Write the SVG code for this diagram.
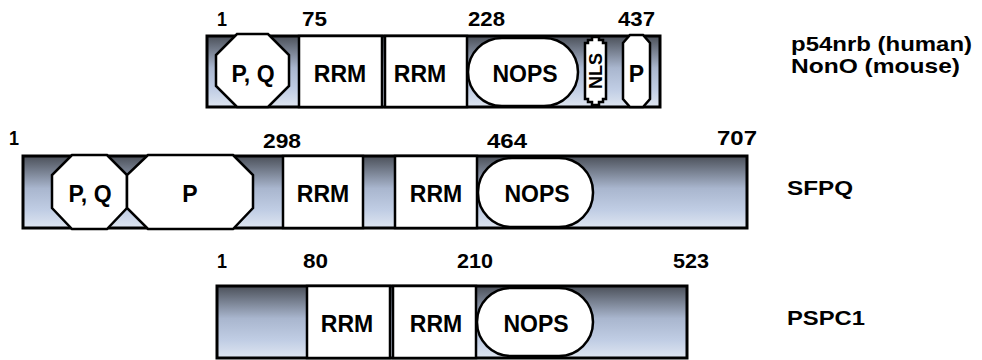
<svg xmlns="http://www.w3.org/2000/svg" width="982" height="360" viewBox="0 0 982 360">
<defs>
<linearGradient id="bg" x1="0" y1="0" x2="0" y2="1">
<stop offset="0" stop-color="#4b5059"/>
<stop offset="0.45" stop-color="#a9b6ce"/>
<stop offset="0.75" stop-color="#c0cde4"/>
<stop offset="1" stop-color="#dfe6f1"/>
</linearGradient>
</defs>
<style>
.bar{fill:url(#bg);stroke:#000;stroke-width:3}
.dom{fill:#fff;stroke:#000;stroke-width:2.5}
.t{font-family:"Liberation Sans",Arial,sans-serif;font-weight:bold;fill:#000}
.num{font-size:20px}
.in{font-size:23px;text-anchor:middle}
.nm{font-size:21px}
</style>
<rect width="982" height="360" fill="#fff"/>

<g id="p54nrb">
<rect class="bar" x="207" y="36" width="453" height="71"/>
<g id="p54-pq"><polygon class="dom" points="237,34 268,34 289,55 289,86 268,107 237,107 216,86 216,55"/><text class="t in" x="253" y="82">P, Q</text></g>
<g id="p54-rrm1"><rect class="dom" x="299" y="36" width="83" height="71"/><text class="t in" x="340" y="82">RRM</text></g>
<g id="p54-rrm2"><rect class="dom" x="385" y="36" width="82" height="71"/><text class="t in" x="420" y="82">RRM</text></g>
<g id="p54-nops"><rect class="dom" x="468" y="38" width="110" height="68" rx="34"/><text class="t in" x="525" y="82">NOPS</text></g>
<g id="p54-nls"><polygon class="dom" points="592,37 599,37 599,40 603,40 603,43 606,43 606,99 603,99 603,102 599,102 599,105 592,105 592,102 588,102 588,99 585,99 585,43 588,43 588,40 592,40" stroke-width="2"/><text class="t" font-size="18" text-anchor="middle" transform="translate(602,71) rotate(-90)">NLS</text></g>
<g id="p54-p"><polygon class="dom" points="630,35 643,35 650,43 650,99 643,107 630,107 623,99 623,43"/><text class="t in" x="636.5" y="82">P</text></g>
<g id="p54-nums">
<text class="t num" x="217" y="26" textLength="10" lengthAdjust="spacingAndGlyphs">1</text>
<text class="t num" x="302" y="26" textLength="25" lengthAdjust="spacingAndGlyphs">75</text>
<text class="t num" x="468" y="26" textLength="37" lengthAdjust="spacingAndGlyphs">228</text>
<text class="t num" x="618" y="26" textLength="37" lengthAdjust="spacingAndGlyphs">437</text>
</g>
<text class="t nm" x="791" y="51" textLength="181" lengthAdjust="spacingAndGlyphs">p54nrb (human)</text>
<text class="t nm" x="791" y="73" textLength="169" lengthAdjust="spacingAndGlyphs">NonO (mouse)</text>
</g>

<g id="sfpq">
<rect class="bar" x="23" y="156" width="724" height="72"/>
<g id="sfpq-pq"><polygon class="dom" points="72,155 107,155 127,175 127,208 107,229 72,229 52,208 52,175"/><text class="t in" x="90" y="202">P, Q</text></g>
<g id="sfpq-p"><polygon class="dom" points="148,155 233,155 253,175 253,208 233,229 148,229 127,208 127,175"/><text class="t in" x="190" y="202">P</text></g>
<g id="sfpq-rrm1"><rect class="dom" x="283" y="156" width="80" height="72"/><text class="t in" x="323" y="202">RRM</text></g>
<g id="sfpq-rrm2"><rect class="dom" x="395" y="156" width="82" height="72"/><text class="t in" x="436" y="202">RRM</text></g>
<g id="sfpq-nops"><rect class="dom" x="478" y="158" width="115" height="69" rx="34"/><text class="t in" x="537" y="202">NOPS</text></g>
<g id="sfpq-nums">
<text class="t num" x="9" y="145" textLength="10" lengthAdjust="spacingAndGlyphs">1</text>
<text class="t num" x="263" y="148" textLength="38" lengthAdjust="spacingAndGlyphs">298</text>
<text class="t num" x="487" y="148" textLength="40" lengthAdjust="spacingAndGlyphs">464</text>
<text class="t num" x="717" y="145" textLength="40" lengthAdjust="spacingAndGlyphs">707</text>
</g>
<text class="t nm" x="787" y="195" textLength="66" lengthAdjust="spacingAndGlyphs">SFPQ</text>
</g>

<g id="pspc1">
<rect class="bar" x="217" y="286" width="470" height="72"/>
<g id="pspc1-rrm1"><rect class="dom" x="307" y="286" width="83" height="72"/><text class="t in" x="347" y="332">RRM</text></g>
<g id="pspc1-rrm2"><rect class="dom" x="393" y="286" width="83" height="72"/><text class="t in" x="436" y="332">RRM</text></g>
<g id="pspc1-nops"><rect class="dom" x="477" y="288" width="116" height="68" rx="34"/><text class="t in" x="536" y="332">NOPS</text></g>
<g id="pspc1-nums">
<text class="t num" x="217" y="268" textLength="10" lengthAdjust="spacingAndGlyphs">1</text>
<text class="t num" x="303" y="268" textLength="25" lengthAdjust="spacingAndGlyphs">80</text>
<text class="t num" x="457" y="268" textLength="36" lengthAdjust="spacingAndGlyphs">210</text>
<text class="t num" x="673" y="268" textLength="36" lengthAdjust="spacingAndGlyphs">523</text>
</g>
<text class="t nm" x="787" y="325" textLength="78" lengthAdjust="spacingAndGlyphs">PSPC1</text>
</g>
</svg>
